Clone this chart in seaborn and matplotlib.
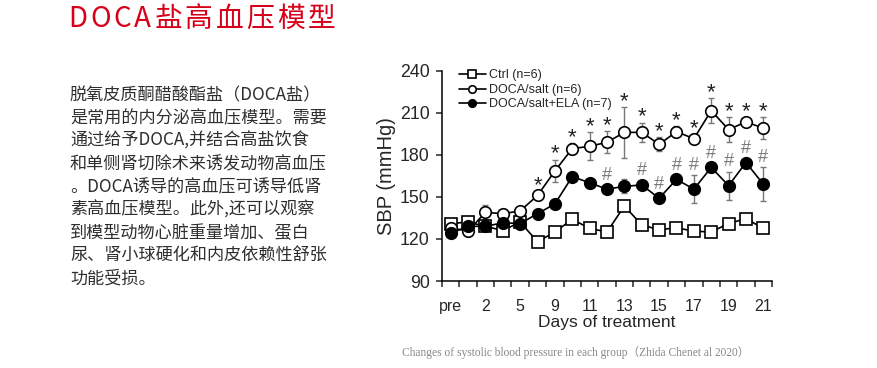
import numpy as np
import pandas as pd
import matplotlib
matplotlib.use("Agg")
import matplotlib.pyplot as plt
import seaborn as sns

sns.set_style("white")
plt.rcParams["font.family"] = ["Liberation Sans", "DejaVu Sans"]

# values (mmHg)
days = ["pre", "1", "2", "3", "5", "7", "9", "10", "11", "12",
        "13", "14", "15", "16", "17", "18", "19", "20", "21"]
ctrl = [131, 132, 129, 126, 132, 118, 125, 134, 127.5, 125,
        143.5, 130, 126.5, 128, 125.5, 125, 131, 134.5, 127.5]
ctrl_err = [2, 2, 2, 2, 2, 2, 2, 2, 2, 2, 2, 2, 2, 2, 2, 2, 2, 2, 2]
doca = [128, 125.5, 139, 138, 140, 151, 168.5, 184.5, 186, 189,
        196, 196, 187.5, 196.5, 191.5, 211.5, 198, 203.5, 199]
doca_err = [2, 2, 5, 3, 3, 3, 8, 4, 10, 8, 18, 7, 5, 4, 3, 9, 9, 3, 8]
ela = [124, 129, 129, 131.5, 131, 138, 145, 164.5, 160, 155.5,
       157.5, 158.5, 149, 162.5, 155.5, 171, 158, 174.5, 159]
ela_err = [2, 2, 2, 2, 2, 2, 2, 3, 3, 3, 5, 3, 3, 3, 10, 3, 10, 3, 12]

star_days = ["7", "9", "10", "11", "12", "13", "14", "15", "16", "17", "18", "19", "20", "21"]
hash_days = ["12", "14", "15", "16", "17", "18", "19", "20", "21"]

labels = ["Ctrl (n=6)", "DOCA/salt (n=6)", "DOCA/salt+ELA (n=7)"]

x = np.arange(len(days))
df = pd.DataFrame({"pos": x, "day": days, "ctrl": ctrl, "doca": doca, "ela": ela})

fig = plt.figure(figsize=(8.77, 3.68), dpi=100)
ax = fig.add_axes([0.504, 0.2364, 0.3763, 0.5715])

# error bars under the markers
for col, err in [("ctrl", ctrl_err), ("doca", doca_err), ("ela", ela_err)]:
    ax.errorbar(df["pos"], df[col], yerr=err, fmt="none", ecolor="#777777",
                elinewidth=1, capsize=2.5, capthick=1, zorder=1)

styles = [("ctrl", "s", "white"), ("doca", "o", "white"), ("ela", "o", "black")]
for i, (col, m, fc) in enumerate(styles):
    sns.lineplot(data=df, x="pos", y=col, ax=ax, color="black", lw=1.2,
                 marker=m, markersize=8.3, markerfacecolor=fc,
                 markeredgecolor="black", markeredgewidth=1.2,
                 label=labels[i], zorder=3 + i)

# significance marks
for d in star_days:
    i = days.index(d)
    ax.text(i, doca[i] + doca_err[i] + 4, "*", ha="center", va="center",
            fontsize=16, color="#222222", zorder=6)
for d in hash_days:
    i = days.index(d)
    ax.text(i, ela[i] + ela_err[i] + 7, "#", ha="center", va="center",
            fontsize=13, color="#7a7a7a", zorder=6)

ax.set_xlim(-0.5, len(days) - 0.5)
ax.set_ylim(90, 240)
ax.set_yticks([90, 120, 150, 180, 210, 240])
ax.set_xticks(np.arange(-0.5, len(days), 1.0))
ax.set_xticklabels([])
ax.set_xticks(x[::2], days[::2], minor=True)
ax.tick_params(axis="x", which="major", length=4, width=1.1, direction="out", bottom=True)
ax.tick_params(axis="x", which="minor", length=0, pad=13, labelsize=11.5)
ax.tick_params(axis="y", length=4, width=1.1, direction="out", left=True, pad=5, labelsize=12.8)

for s in ["top", "right"]:
    ax.spines[s].set_visible(False)
for s in ["left", "bottom"]:
    ax.spines[s].set_color("black")
    ax.spines[s].set_linewidth(1.1)

ax.set_xlabel("Days of treatment", fontsize=12.5, labelpad=1)
ax.set_ylabel("SBP (mmHg)", fontsize=14.5, labelpad=3)

ax.legend(loc="upper left", bbox_to_anchor=(0.035, 1.03), frameon=False,
          fontsize=9, handlelength=2.2, handletextpad=0.2, labelspacing=0.2,
          markerscale=0.65, borderaxespad=0)

# page text around the chart
W, H = 877, 368
cjk = ["Noto Sans CJK SC", "DejaVu Sans"]

# title drawn letter by letter to get the wide tracking of the original
r = fig.canvas.get_renderer()
xp = 68
for ch in "DOCA盐高血压模型":
    t = fig.text(xp / W, 1 - 19 / H, ch, fontsize=20, color="#d7001a",
                 family=cjk, ha="left", va="center")
    xp += t.get_window_extent(r).width + 3

para = ["脱氧皮质酮醋酸酯盐（DOCA盐）",
        "是常用的内分泌高血压模型。需要",
        "通过给予DOCA,并结合高盐饮食",
        "和单侧肾切除术来诱发动物高血压",
        "。DOCA诱导的高血压可诱导低肾",
        "素高血压模型。此外,还可以观察",
        "到模型动物心脏重量增加、蛋白",
        "尿、肾小球硬化和内皮依赖性舒张",
        "功能受损。"]
for k, line in enumerate(para):
    fig.text(70 / W, 1 - (95 + 23 * k) / H, line, fontsize=12.3, color="#2e2e2e",
             family=cjk, ha="left", va="center")

fig.text(576 / W, 1 - 353 / H,
         "Changes of systolic blood pressure in each group（Zhida Chenet al 2020）",
         fontsize=8.3, color="#888888", ha="center", va="center",
         family=["Liberation Serif", "Noto Sans CJK SC"])

fig.savefig("out.png", dpi=100)
